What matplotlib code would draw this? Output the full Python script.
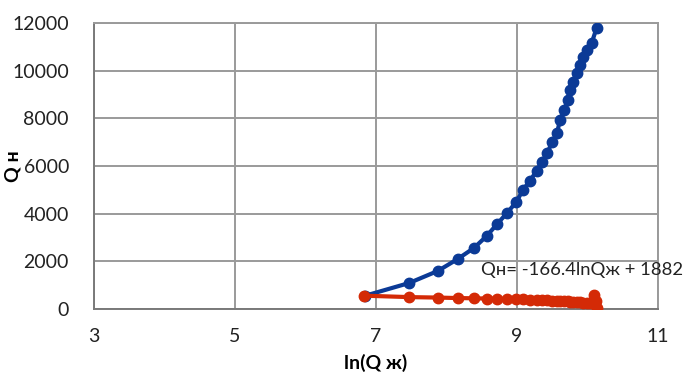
import matplotlib.pyplot as plt

plt.rcParams['font.family'] = ['Lato', 'DejaVu Sans']

# blue series: Q н vs ln(Q ж)
blue_x = [6.85, 7.47, 7.88, 8.16, 8.39, 8.57, 8.72, 8.86, 8.99, 9.085, 9.18,
          9.28, 9.355, 9.43, 9.50, 9.57, 9.61, 9.67, 9.72, 9.75, 9.79, 9.85,
          9.89, 9.94, 9.99, 10.06, 10.13]
blue_y = [560, 1090, 1600, 2100, 2560, 3060, 3570, 4030, 4490, 4990, 5370,
          5790, 6170, 6550, 7010, 7390, 7930, 8350, 8770, 9190, 9520, 9900,
          10240, 10570, 10870, 11160, 11790]

# red series
red_x = [6.83, 7.47, 7.88, 8.16, 8.39, 8.57, 8.72, 8.86, 8.99, 9.085, 9.18,
         9.28, 9.355, 9.43, 9.50, 9.57, 9.61, 9.67, 9.72, 9.75, 9.79, 9.85,
         9.89, 9.94, 9.99, 10.04, 10.10, 10.12, 10.14]
red_y = [560, 500, 480, 460, 450, 440, 430, 420, 410, 400, 390,
         380, 370, 360, 350, 340, 330, 330, 320, 310, 300, 290,
         280, 270, 260, 250, 600, 350, 30]

x_ticks = [3, 5, 7, 9, 11]
y_ticks = [0, 2000, 4000, 6000, 8000, 10000, 12000]

fig = plt.figure(figsize=(6.94, 3.78), dpi=100)
ax = fig.add_axes([0.1354, 0.1825, 0.8126, 0.7565])

ax.plot(blue_x, blue_y, color='#0b3a96', lw=3, marker='o', ms=7.5,
        zorder=3)
ax.plot(red_x, red_y, color='#d42a06', lw=3, marker='o', ms=7.5,
        zorder=4)

ax.set_xlim(3, 11)
ax.set_ylim(0, 12000)
ax.set_xticks(x_ticks)
ax.set_yticks(y_ticks)
ax.grid(True, color='#9a9a9a', lw=1.4)
ax.set_axisbelow(True)
for s in ax.spines.values():
    s.set_color('#9a9a9a')
    s.set_linewidth(1.4)
ax.spines['left'].set_color('#7a7a7a')
ax.spines['bottom'].set_color('#7a7a7a')
ax.tick_params(length=0, labelsize=14, colors='#222222')
ax.tick_params(axis='y', pad=18)
ax.tick_params(axis='x', pad=14)

ax.set_xlabel('ln(Q ж)', fontsize=14, fontweight='bold', labelpad=6)
ax.set_ylabel('Q н', fontsize=14, fontweight='bold')
ax.yaxis.set_label_coords(-0.128, 0.5)

ax.text(8.49, 1640, 'Qн= -166.4lnQж + 1882', fontsize=13.3, va='center',
        ha='left', color='#222222', clip_on=False, zorder=5)

fig.savefig('out.png', dpi=100)
